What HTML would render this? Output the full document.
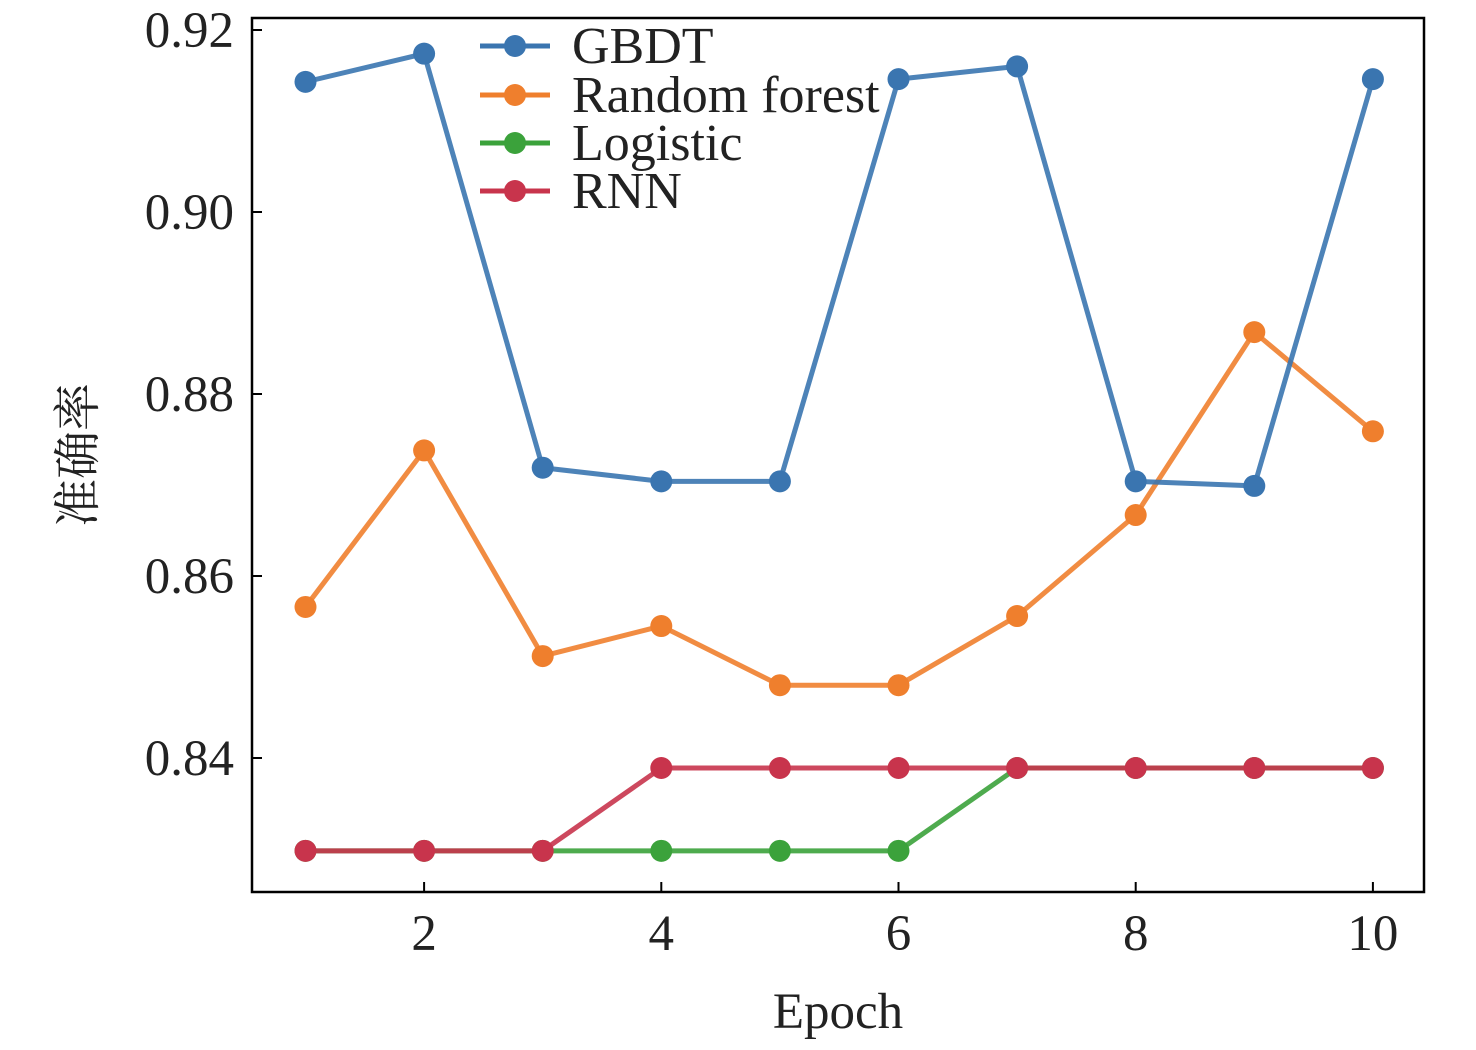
<!DOCTYPE html>
<html><head><meta charset="utf-8"><style>
html,body{margin:0;padding:0;background:#fff;}
svg text{font-family:"Liberation Serif","Noto Serif CJK SC",serif;fill:#222;}
</style></head><body>
<svg id="chart" width="1476" height="1045" viewBox="0 0 1476 1045" xmlns="http://www.w3.org/2000/svg"></svg>
<script>
const epochs=[1,2,3,4,5,6,7,8,9,10];
const gbdt=[0.9143,0.9174,0.8719,0.8704,0.8704,0.9146,0.9160,0.8704,0.8699,0.9146];
const randomForest=[0.8566,0.8738,0.8512,0.8545,0.8480,0.8480,0.8556,0.8667,0.8868,0.8759];
const logistic=[0.8298,0.8298,0.8298,0.8298,0.8298,0.8298,0.8389,0.8389,0.8389,0.8389];
const rnn=[0.8298,0.8298,0.8298,0.8389,0.8389,0.8389,0.8389,0.8389,0.8389,0.8389];
const xTicks=[2,4,6,8,10];
const yTicks=[0.84,0.86,0.88,0.90,0.92];
const seriesNames=["GBDT","Random forest","Logistic","RNN"];

const svg=document.getElementById('chart');
const NS='http://www.w3.org/2000/svg';
const L=252,R=1424,T=18,B=892;
function xs(v){return 305.5+(v-1)*118.6;}
function ys(v){return 30+(0.92-v)*9100;}
function mk(tag,attrs,parent){const e=document.createElementNS(NS,tag);for(const k in attrs)e.setAttribute(k,attrs[k]);(parent||svg).appendChild(e);return e;}

const frame=mk('rect',{x:L,y:T,width:R-L,height:B-T,fill:'none',stroke:'#000','stroke-width':2.5});



xTicks.forEach(t=>{
  const tk=mk('line',{x1:xs(t),x2:xs(t),y1:B,y2:B-10,stroke:'#000','stroke-width':2});
  
  
  const tx=mk('text',{x:xs(t),y:B+58,'text-anchor':'middle','font-size':51});
  tx.textContent=String(t);
  
  
});
yTicks.forEach(t=>{
  const tk=mk('line',{x1:L,x2:L+10,y1:ys(t),y2:ys(t),stroke:'#000','stroke-width':2});
  
  
  const tx=mk('text',{x:L-18,y:ys(t)+17,'text-anchor':'end','font-size':51});
  tx.textContent=t.toFixed(2);
  
  
});

const xt=mk('text',{x:838,y:1028,'text-anchor':'middle','font-size':51});
xt.textContent='Epoch';


const yt=mk('text',{x:0,y:0,'text-anchor':'middle','font-size':48,transform:'translate(94,455) rotate(-90)'});
yt.textContent='准确率';



const colors=['#3a75b0','#ef7f2d','#3ba23b','#c8344c'];
const allSeries=[gbdt,randomForest,logistic,rnn];
const order=[2,3,1,0];
order.forEach(i=>{
  const data=allSeries[i];
  const g=mk('g',{});
  
  
  const pts=data.map((v,j)=>xs(epochs[j])+','+ys(v)).join(' ');
  const pl=mk('polyline',{points:pts,fill:'none',stroke:colors[i],'stroke-width':5,'stroke-linejoin':'round',opacity:0.9},g);
  
  
  data.forEach((v,j)=>{
    const c=mk('circle',{cx:xs(epochs[j]),cy:ys(v),r:11,fill:colors[i]},g);
    
    
  });
});

const lg=mk('g',{});


const legY=[46,95,143,191];
seriesNames.forEach((n,i)=>{
  const e=mk('g',{},lg);
  
  
  mk('line',{x1:480,x2:550,y1:legY[i],y2:legY[i],stroke:colors[i],'stroke-width':5},e);
  mk('circle',{cx:515,cy:legY[i],r:11,fill:colors[i]},e);
  const t=mk('text',{x:572,y:legY[i]+17,'font-size':52},e);
  t.textContent=n;
});
</script>
</body></html>
